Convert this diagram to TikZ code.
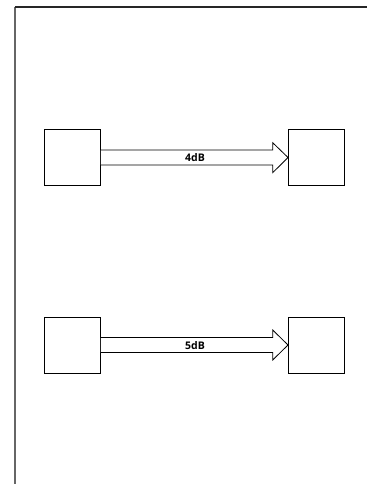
\documentclass[tikz,border=0pt]{standalone}
\usepackage{fontspec}
\setmainfont{Open Sans}
\usetikzlibrary{shapes.arrows}
\begin{document}
\begin{tikzpicture}[x=1pt,y=-1pt,
  boxnode/.style={draw=black, line width=0.8pt, minimum width=56pt, minimum height=56pt, inner sep=0pt, fill=white},
  lbl/.style={font=\bfseries\fontsize{10.5}{12}\selectfont, inner sep=0pt}]
\useasboundingbox[fill=white] (0,0) rectangle (367,484);
% frame
\draw[line width=1.5pt, color=black!60] (15,7) -- (15,484);
\draw[line width=1.5pt, color=black!85] (15,7) -- (367,7);
% top row
\node[boxnode] (a1) at (72.5,157) {};
\node[boxnode] (b1) at (316,157) {};
\coordinate (t1) at (288,157.5);
\draw[line width=0.8pt, fill=white] (a1.east |- 0,150) -- (272.7,150) -- (272.7,142.7) -- (t1) -- (272.7,172.7) -- (272.7,165) -- (a1.east |- 0,165);
\node[lbl] (l1) at (195,157.7) {4dB};
% bottom row
\node[boxnode] (a2) at (72.5,345) {};
\node[boxnode] (b2) at (316,345) {};
\coordinate (t2) at (288,345);
\draw[line width=0.8pt, fill=white] (a2.east |- 0,337.5) -- (272.7,337.5) -- (272.7,330) -- (t2) -- (272.7,360) -- (272.7,352.5) -- (a2.east |- 0,352.5);
\node[lbl] (l2) at (195,345.5) {5dB};
\end{tikzpicture}
\end{document}
